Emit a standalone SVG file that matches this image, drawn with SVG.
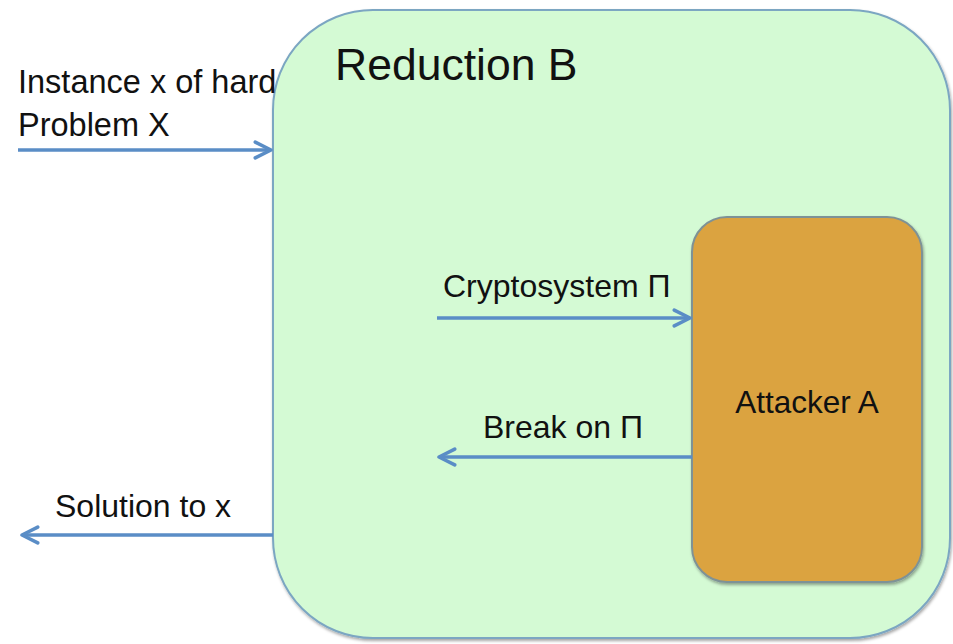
<svg xmlns="http://www.w3.org/2000/svg" width="953" height="644" viewBox="0 0 953 644">
<style>
.t{font-family:"Liberation Sans",Arial,sans-serif;fill:#111;}
.c{stroke:#5A8DC6;stroke-width:3.5;fill:none;marker-end:url(#ah);}
</style>
<defs>
<marker id="ah" viewBox="0 0 12 12" refX="11" refY="6" markerWidth="6" markerHeight="6" markerUnits="strokeWidth" orient="auto">
<path d="M2,1.5 L11,6 L2,10.5" fill="none" stroke="#5A8DC6" stroke-width="2" stroke-linecap="round" stroke-linejoin="round"/>
</marker>
<filter id="sh" x="-5%" y="-5%" width="110%" height="110%">
<feDropShadow dx="1" dy="2" stdDeviation="1.5" flood-color="#000" flood-opacity="0.35"/>
</filter>
</defs>
<rect width="953" height="644" fill="#fff"/>
<g id="reduction">
<rect x="273" y="10" width="677" height="628" rx="100" ry="100" fill="#D4FAD4" stroke="#7BA6C2" stroke-width="2" filter="url(#sh)"/>
<text class="t" x="335" y="80" font-size="44.5">Reduction B</text>
</g>
<g id="attacker">
<rect x="692" y="217" width="230" height="365" rx="35" ry="35" fill="#DBA33F" stroke="#7E9296" stroke-width="2" filter="url(#sh)"/>
<text class="t" x="807" y="413" font-size="31.5" text-anchor="middle">Attacker A</text>
</g>
<g id="connectors">
<line class="c" x1="18" y1="150" x2="271" y2="150"/>
<line class="c" x1="437" y1="318" x2="690" y2="318"/>
<line class="c" x1="692" y1="457" x2="439" y2="457"/>
<line class="c" x1="273" y1="535" x2="22" y2="535"/>
</g>
<g id="labels">
<text class="t" x="18" y="93" font-size="32.5">Instance x of hard</text>
<text class="t" x="18" y="136" font-size="32.5">Problem X</text>
<text class="t" x="443" y="297" font-size="32">Cryptosystem Π</text>
<text class="t" x="483" y="438" font-size="32">Break on Π</text>
<text class="t" x="55" y="517" font-size="32">Solution to x</text>
</g>
</svg>
